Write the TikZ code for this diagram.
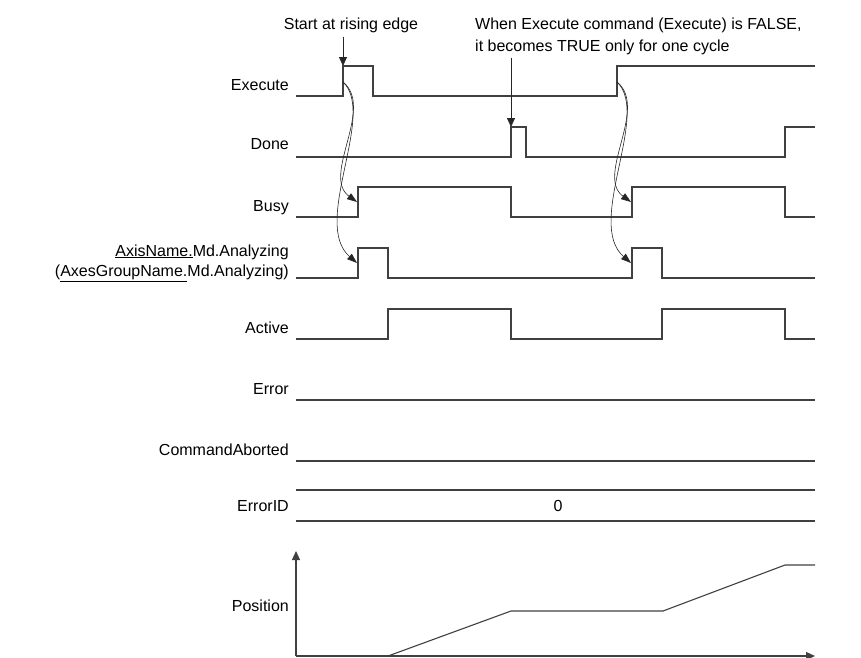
\documentclass[tikz,border=0pt]{standalone}
\usepackage{fontspec}
\setmainfont{Liberation Sans}
\usetikzlibrary{arrows.meta}

\begin{document}
\begin{tikzpicture}[x=1pt, y=-1pt,
	sig/.style={line width=1.3pt, draw=black!75},
	lbl/.style={anchor=base east, inner sep=0pt, font=\fontsize{16}{20}\selectfont},
	note/.style={inner sep=0pt, font=\fontsize{16}{22}\selectfont},
	pointer/.style={line width=0.8pt, draw=black!85, -{Triangle[length=9pt, width=8pt]}},
	link/.style={line width=0.6pt, draw=black!85, -{Triangle[length=10pt, width=7pt]}}]

	\useasboundingbox (0,0) rectangle (861,657);

	% signal names (multi-line nodes sit on their last baseline)
	\node[lbl] (lexec) at (289,90) {Execute};
	\node[lbl] (ldone) at (289,149) {Done};
	\node[lbl] (lbusy) at (289,211) {Busy};
	\node[lbl, align=right] (lanlz) at (289,276) {\underline{AxisName.}Md.Analyzing\\(\underline{AxesGroupName.}Md.Analyzing)};
	\node[lbl] (lactive) at (289,333) {Active};
	\node[lbl] (lerror) at (289,394) {Error};
	\node[lbl] (labort) at (289,455) {CommandAborted};
	\node[lbl] (lerrid) at (289,511) {ErrorID};
	\node[lbl] (lpos) at (289,611) {Position};

	% timing lines
	\draw[sig] (296,96) -- (343,96) -- (343,66) -- (373,66) -- (373,96) -- (617,96) -- (617,66) -- (815,66);
	\draw[sig] (296,157) -- (511,157) -- (511,127) -- (526,127) -- (526,157) -- (785,157) -- (785,127) -- (815,127);
	\draw[sig] (296,217) -- (358,217) -- (358,187) -- (511,187) -- (511,217) -- (632,217) -- (632,187) -- (785,187) -- (785,217) -- (815,217);
	\draw[sig] (296,278) -- (358,278) -- (358,248) -- (388,248) -- (388,278) -- (632,278) -- (632,248) -- (662,248) -- (662,278) -- (815,278);
	\draw[sig] (296,339) -- (388,339) -- (388,309) -- (511,309) -- (511,339) -- (662,339) -- (662,309) -- (785,309) -- (785,339) -- (815,339);
	\draw[sig] (296,400) -- (815,400);
	\draw[sig] (296,461) -- (815,461);
	\draw[sig] (296,490) -- (815,490);
	\draw[sig] (296,521) -- (815,521);
	\node[note] (errval) at (558,505.5) {0};

	% position curve
	\coordinate (origin) at (296,656);
	\draw[sig, -{Triangle[length=9pt, width=8pt]}] (origin) -- (296,551);
	\draw[sig, -{Triangle[length=9pt, width=8pt]}] (origin) -- (815,656);
	\draw[sig, line width=1.1pt] (388,656) -- (511,611) -- (663,611) -- (785,565) -- (815,565);

	% notes on top
	\node[note, anchor=base] (start) at (351,29) {Start at rising edge};
	\node[note, anchor=base west, align=left] (once) at (475,51) {When Execute command (Execute) is FALSE,\\it becomes TRUE only for one cycle};
	\coordinate (exrise) at (343,66);
	\coordinate (dnrise) at (511,127);
	\draw[pointer] (start.south -| exrise) ++(0,4) -- (exrise);
	\draw[pointer] (once.south -| dnrise) ++(0,3) -- (dnrise);

	% cause and effect
	\coordinate (exec1) at (343,82);
	\coordinate (exec2) at (617,82);
	\coordinate (busy1) at (357,202);
	\coordinate (busy2) at (631,202);
	\coordinate (anlz1) at (357,263);
	\coordinate (anlz2) at (631,263);
	\foreach \i in {1,2} {
		\draw[link] (exec\i) .. controls +(32,26) and +(-36,-26) .. (busy\i);
		\draw[link] (exec\i) .. controls +(34,32) and +(-46,-40) .. (anlz\i);
	}
\end{tikzpicture}
\end{document}
